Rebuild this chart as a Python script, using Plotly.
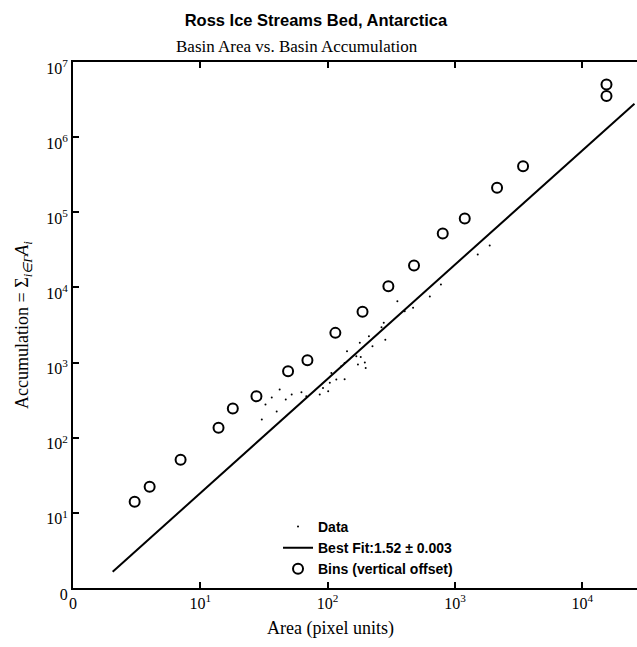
import plotly.graph_objects as go

# Binned basin statistics (shifted upward for display)
bin_area = [3.05, 4.0, 7.0, 13.9, 18.0, 27.6, 48.9, 69.4, 115, 188, 300, 477,
            802, 1194, 2142, 3428, 15500, 15500]
bin_accum = [14.1, 22.3, 51, 136, 244, 356, 766, 1073, 2485, 4730, 10370, 19580,
             52200, 82800, 212000, 411000, 3520000, 5030000]

# Individual basin measurements
data_area = [353, 403, 469, 276, 265, 284, 211, 225, 179, 168, 182, 142, 136, 173,
             196, 199, 128, 117, 107, 136, 104, 92, 101, 86.7, 62.3, 68,
             32.5, 36.4, 42.0, 46.9, 52.2, 39.8, 30.4, 635, 776, 1875, 1510]
data_accum = [6550, 4820, 5350, 3380, 2950, 2020, 2240, 1650, 1830, 1210, 1190, 1410,
              990, 940, 1000, 850, 893, 594, 729, 600, 537, 460, 415, 375, 403, 356,
              276, 343, 438, 322, 376, 223, 175, 7570, 10900, 36100, 27400]

# Power-law fit: accumulation = prefactor * area ** exponent
fit_exponent = 1.52
fit_error = 0.003
fit_prefactor = 0.553
fit_area = [2.05, 25700]
fit_accum = [fit_prefactor * a ** fit_exponent for a in fit_area]

x_tickvals = [1, 10, 100, 1000, 10000]
x_ticktext = ["0", "10<sup>1</sup>", "10<sup>2</sup>", "10<sup>3</sup>", "10<sup>4</sup>"]
y_tickvals = [1, 10, 100, 1e3, 1e4, 1e5, 1e6, 1e7]
y_ticktext = ["0", "10<sup>1</sup>", "10<sup>2</sup>", "10<sup>3</sup>", "10<sup>4</sup>",
              "10<sup>5</sup>", "10<sup>6</sup>", "10<sup>7</sup>"]

serif = "Liberation Serif"
sans = "Liberation Sans"

fig = go.Figure()
fig.add_trace(go.Scatter(
    x=data_area, y=data_accum, mode="markers", name="Data",
    marker=dict(color="black", size=2),
))
fig.add_trace(go.Scatter(
    x=fit_area, y=fit_accum, mode="lines",
    name=f"Best Fit:{fit_exponent:.2f} ± {fit_error:.3f}",
    line=dict(color="black", width=2),
))
fig.add_trace(go.Scatter(
    x=bin_area, y=bin_accum, mode="markers", name="Bins (vertical offset)",
    marker=dict(symbol="circle-open", color="black", size=10, line=dict(width=2)),
))

fig.update_layout(
    width=637, height=647,
    margin=dict(l=73, r=0, t=62, b=59),
    paper_bgcolor="white", plot_bgcolor="white",
    showlegend=True,
    legend=dict(
        x=0.3635, xanchor="left", y=0.006, yanchor="bottom",
        bgcolor="rgba(0,0,0,0)",
        font=dict(family=sans, size=14, color="black", weight="bold"),
        tracegroupgap=0,
    ),
    title=dict(
        text="Ross Ice Streams Bed, Antarctica",
        x=0.496, xanchor="center", y=0.969, yanchor="middle",
        font=dict(family=sans, size=16.5, color="black", weight="bold"),
    ),
    annotations=[
        dict(
            text="Basin Area vs. Basin Accumulation",
            xref="paper", yref="paper", x=0.397, y=1.0, yanchor="bottom",
            xanchor="center", yshift=4, showarrow=False,
            font=dict(family=serif, size=17, color="black"),
        ),
        dict(
            text="Area (pixel units)",
            xref="paper", yref="paper", x=0.456, y=0, yanchor="middle",
            xanchor="center", yshift=-40, showarrow=False,
            font=dict(family=serif, size=18, color="black"),
        ),
        dict(
            text="Accumulation = Σ<sub><i>i∈Γ</i></sub><i>A<sub>i</sub></i>",
            xref="paper", yref="paper", x=-0.0887, y=0.5, yanchor="middle",
            xanchor="center", textangle=-90, showarrow=False,
            font=dict(family=serif, size=18, color="black"),
        ),
    ],
)

fig.update_xaxes(
    type="log", range=[0, 4.43],
    tickvals=x_tickvals, ticktext=x_ticktext,
    ticks="inside", ticklen=6, tickwidth=1.5, tickcolor="black",
    showline=True, linecolor="black", linewidth=2, mirror="ticks",
    showgrid=False, zeroline=False,
    tickfont=dict(family=serif, size=16, color="black"),
)
fig.update_yaxes(
    type="log", range=[0, 7],
    tickvals=y_tickvals, ticktext=y_ticktext,
    ticks="inside", ticklen=6, tickwidth=1.5, tickcolor="black",
    showline=True, linecolor="black", linewidth=2, mirror=False,
    showgrid=False, zeroline=False, ticklabelshift=6,
    tickfont=dict(family=serif, size=16, color="black"),
)

fig.write_html("out.html")
